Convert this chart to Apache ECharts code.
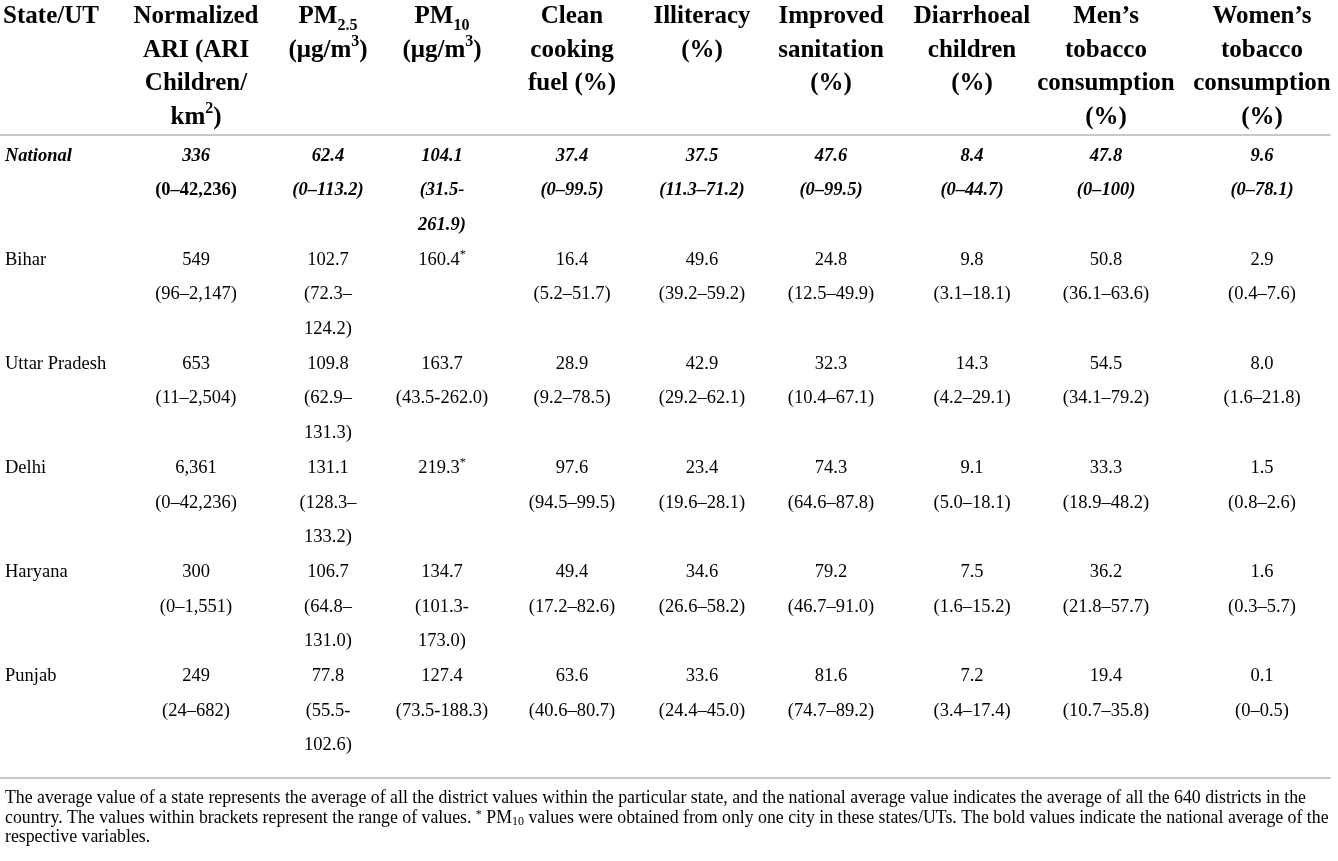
<!DOCTYPE html>
<html>
<head>
<meta charset="utf-8">
<script src="https://cdn.jsdelivr.net/npm/echarts@6.0.0/dist/echarts.min.js"></script>
<style>
  html, body { margin: 0; padding: 0; background: #fff; }
  #main { width: 1338px; height: 861px; }
</style>
</head>
<body>
<div id="main"></div>
<script>
// table content
var states = ["National", "Bihar", "Uttar Pradesh", "Delhi", "Haryana", "Punjab"]

var headerLabels = [
    "State/UT",
    "Normalized\nARI (ARI\nChildren/\nkm{sup|2})",
    "PM{sub|2.5}\n(μg/m{sup|3})",
    "PM{sub|10}\n(μg/m{sup|3})",
    "Clean\ncooking\nfuel (%)",
    "Illiteracy\n(%)",
    "Improved\nsanitation\n(%)",
    "Diarrhoeal\nchildren\n(%)",
    "Men’s\ntobacco\nconsumption\n(%)",
    "Women’s\ntobacco\nconsumption\n(%)"
]

var ari = ["336", "549", "653", "6,361", "300", "249"]
var ariRange = ["(0–42,236)", "(96–2,147)", "(11–2,504)", "(0–42,236)", "(0–1,551)", "(24–682)"]
var pm25 = ["62.4", "102.7", "109.8", "131.1", "106.7", "77.8"]
var pm25Range = ["(0–113.2)", "(72.3–\n124.2)", "(62.9–\n131.3)", "(128.3–\n133.2)", "(64.8–\n131.0)", "(55.5-\n102.6)"]
var pm10 = ["104.1", "160.4*", "163.7", "219.3*", "134.7", "127.4"]
var pm10Range = ["(31.5-\n261.9)", "", "(43.5-262.0)", "", "(101.3-\n173.0)", "(73.5-188.3)"]
var cooking = ["37.4", "16.4", "28.9", "97.6", "49.4", "63.6"]
var cookingRange = ["(0–99.5)", "(5.2–51.7)", "(9.2–78.5)", "(94.5–99.5)", "(17.2–82.6)", "(40.6–80.7)"]
var illiteracy = ["37.5", "49.6", "42.9", "23.4", "34.6", "33.6"]
var illiteracyRange = ["(11.3–71.2)", "(39.2–59.2)", "(29.2–62.1)", "(19.6–28.1)", "(26.6–58.2)", "(24.4–45.0)"]
var sanitation = ["47.6", "24.8", "32.3", "74.3", "79.2", "81.6"]
var sanitationRange = ["(0–99.5)", "(12.5–49.9)", "(10.4–67.1)", "(64.6–87.8)", "(46.7–91.0)", "(74.7–89.2)"]
var diarrhoea = ["8.4", "9.8", "14.3", "9.1", "7.5", "7.2"]
var diarrhoeaRange = ["(0–44.7)", "(3.1–18.1)", "(4.2–29.1)", "(5.0–18.1)", "(1.6–15.2)", "(3.4–17.4)"]
var menTobacco = ["47.8", "50.8", "54.5", "33.3", "36.2", "19.4"]
var menTobaccoRange = ["(0–100)", "(36.1–63.6)", "(34.1–79.2)", "(18.9–48.2)", "(21.8–57.7)", "(10.7–35.8)"]
var womenTobacco = ["9.6", "2.9", "8.0", "1.5", "1.6", "0.1"]
var womenTobaccoRange = ["(0–78.1)", "(0.4–7.6)", "(1.6–21.8)", "(0.8–2.6)", "(0.3–5.7)", "(0–0.5)"]

var footnote = [
    "The average value of a state represents the average of all the district values within the particular state, and the national average value indicates the average of all the 640 districts in the",
    "country. The values within brackets represent the range of values. {sup|*} PM{sub|10} values were obtained from only one city in these states/UTs. The bold values indicate the national average of the",
    "respective variables."
]

var columns = [
    [ari, ariRange], [pm25, pm25Range], [pm10, pm10Range], [cooking, cookingRange],
    [illiteracy, illiteracyRange], [sanitation, sanitationRange], [diarrhoea, diarrhoeaRange],
    [menTobacco, menTobaccoRange], [womenTobacco, womenTobaccoRange]
]

// layout
var FONT = "Liberation Serif"
var colX = [5, 196, 328, 442, 572, 702, 831, 972, 1106, 1262]
var headerX = [51, 196, 328, 442, 572, 702, 831, 972, 1106, 1262]
var LINE_STEP = 34.7
var BODY_SIZE = 18.5
// national ARI range is bold but not italic in the source
var uprightCells = { "0-1-range": true }

var cells = []
states.forEach(function (s, r) {
    colX.forEach(function (x, c) {
        cells.push([x, r, c])
    })
})

function cellLines(r, c) {
    var national = r === 0
    if (c === 0) {
        return [{ text: states[r], bold: national, italic: national }]
    }
    var col = columns[c - 1]
    var out = [{ text: col[0][r].replace("*", "{sup|*}"), bold: national, italic: national }]
    if (col[1][r]) {
        var italic = national && !uprightCells[r + "-" + c + "-range"]
        col[1][r].split("\n").forEach(function (t) {
            out.push({ text: t, bold: national, italic: italic })
        })
    }
    return out
}

var chartDom = document.getElementById("main")
var myChart = echarts.init(chartDom)
var option

option = {
    backgroundColor: "#fff",
    animation: false,
    title: {
        left: 5,
        top: 789,
        padding: 0,
        text: footnote.join("\n"),
        textStyle: {
            fontFamily: FONT,
            fontSize: 17.8,
            fontWeight: "normal",
            color: "#000",
            lineHeight: 19.5,
            rich: {
                sup: { fontFamily: FONT, fontSize: 12, lineHeight: 12, verticalAlign: "top", color: "#000" },
                sub: { fontFamily: FONT, fontSize: 12, lineHeight: 12, verticalAlign: "bottom", color: "#000" }
            }
        }
    },
    grid: {
        left: 0,
        right: 8,
        top: 135,
        bottom: 83
    },
    xAxis: [
        {
            type: "value",
            position: "top",
            min: 0,
            max: 1330,
            axisLine: { show: true, onZero: false, lineStyle: { color: "#c8c8c8", width: 2 } },
            axisTick: { show: false },
            splitLine: { show: false },
            axisLabel: {
                customValues: headerX,
                margin: 135,
                verticalAlign: "top",
                align: "center",
                fontFamily: FONT,
                fontSize: 25,
                fontWeight: "bold",
                color: "#000",
                lineHeight: 33.5,
                formatter: function (v) {
                    return headerLabels[headerX.indexOf(v)]
                },
                rich: {
                    sup: { fontFamily: FONT, fontSize: 16, fontWeight: "bold", lineHeight: 22, verticalAlign: "top", color: "#000" },
                    sub: { fontFamily: FONT, fontSize: 16, fontWeight: "bold", lineHeight: 22, verticalAlign: "bottom", color: "#000" }
                }
            }
        },
        {
            type: "value",
            position: "bottom",
            min: 0,
            max: 1330,
            axisLine: { show: true, onZero: false, lineStyle: { color: "#c8c8c8", width: 2 } },
            axisTick: { show: false },
            splitLine: { show: false },
            axisLabel: { show: false }
        }
    ],
    yAxis: {
        type: "value",
        inverse: true,
        min: -0.2,
        max: 5.98,
        show: false
    },
    series: [
        {
            type: "custom",
            xAxisIndex: 0,
            data: cells,
            renderItem: function (params, api) {
                var r = api.value(1)
                var c = api.value(2)
                var pt = api.coord([api.value(0), r])
                var lines = cellLines(r, c)
                return {
                    type: "group",
                    children: lines.map(function (ln, k) {
                        return {
                            type: "text",
                            style: {
                                text: ln.text,
                                x: pt[0],
                                y: pt[1] + k * LINE_STEP,
                                align: c === 0 ? "left" : "center",
                                verticalAlign: "middle",
                                fontFamily: FONT,
                                fontSize: BODY_SIZE,
                                fontWeight: ln.bold ? "bold" : "normal",
                                fontStyle: ln.italic ? "italic" : "normal",
                                fill: "#000",
                                lineHeight: 22,
                                rich: {
                                    sup: { fontFamily: FONT, fontSize: 12, lineHeight: 12, verticalAlign: "top", fill: "#000" }
                                }
                            }
                        }
                    })
                }
            }
        }
    ]
}

option && myChart.setOption(option)
</script>
</body>
</html>
